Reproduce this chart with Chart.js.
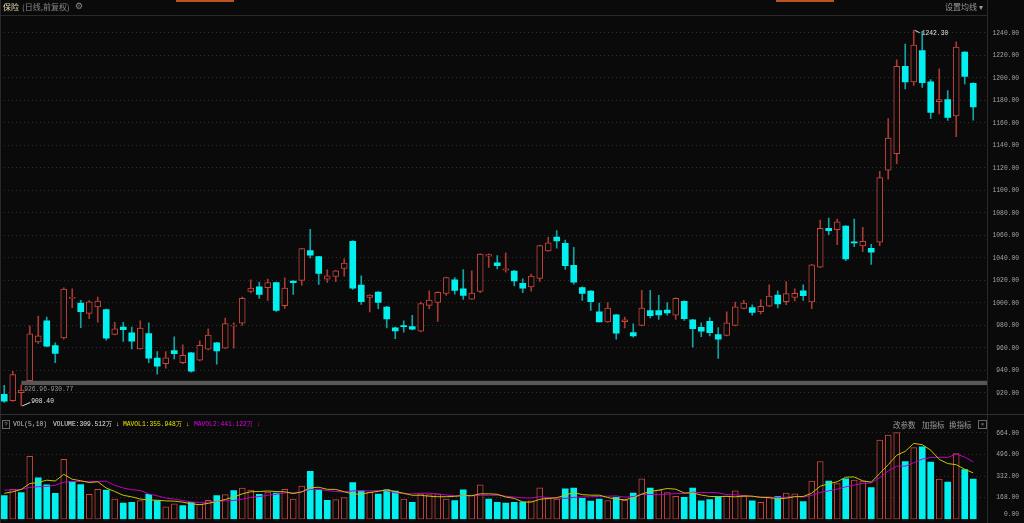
<!DOCTYPE html>
<html>
<head>
<meta charset="utf-8">
<script src="https://cdn.jsdelivr.net/npm/chart.js@4.4.1/dist/chart.umd.min.js"></script>
<style>
html, body { margin: 0; padding: 0; background: #0a0a0a; overflow: hidden; }
#wrap { position: relative; width: 1024px; height: 523px; background: #0a0a0a; font-family: 'Liberation Mono', monospace; }
canvas { position: absolute; left: 0; }
#main { top: 0; }
#vol { top: 412px; }
.t { position: absolute; white-space: nowrap; line-height: 1; }
.cjk { font-family: 'Noto Sans CJK SC', sans-serif; }
.mono { font-family: 'Liberation Mono', monospace; font-size: 6.3px; }
.ln { position: absolute; background: #2a2a2a; }
.box { position: absolute; border: 1px solid #6a6a6a; color: #9a9a9a; font-size: 6px; text-align: center; line-height: 7px; }
</style>
</head>
<body>
<div id="wrap">
	<canvas id="main" width="1024" height="412"></canvas>
	<canvas id="vol" width="1024" height="111"></canvas>

	<!-- 프레임 선 -->
	<div class="ln" style="left:0;top:15px;width:987px;height:1px"></div>
	<div class="ln" style="left:987px;top:0;width:1px;height:523px"></div>
	<div class="ln" style="left:0;top:0;width:1px;height:523px"></div>
	<div class="ln" style="left:0;top:414px;width:1024px;height:1px;background:#303030"></div>
	<div class="ln" style="left:176px;top:0;width:58px;height:2px;background:#b8541c"></div>
	<div class="ln" style="left:776px;top:0;width:58px;height:2px;background:#b8541c"></div>

	<!-- 상단 제목 -->
	<span class="t cjk" style="left:3px;top:3px;font-size:8px;color:#e4dfae">保险</span>
	<span class="t cjk" style="left:22px;top:3px;font-size:8px;color:#8a8a8a">(日线,前复权)</span>
	<span class="t" style="left:75px;top:2px;font-size:9px;color:#8a8a8a;font-family:'DejaVu Sans'">&#9881;</span>
	<span class="t cjk" style="left:945px;top:3px;font-size:8px;color:#9a9a9a">设置均线 &#9662;</span>

	<!-- 거래량 헤더 -->
	<div class="box" style="left:2px;top:420px;width:6px;height:7px">?</div>
	<span class="t mono" style="left:13px;top:422px;color:#c4c4c4">VOL(5,10)</span>
	<span class="t mono" style="left:53px;top:422px;color:#e2e2e2">VOLUME:309.512万 ↓</span>
	<span class="t mono" style="left:123px;top:422px;color:#e6e600">MAVOL1:355.948万 ↓</span>
	<span class="t mono" style="left:194px;top:422px;color:#e000e0">MAVOL2:441.122万 ↓</span>
	<span class="t cjk" style="left:893px;top:421px;font-size:7.5px;color:#9a9a9a">改参数</span>
	<span class="t cjk" style="left:922px;top:421px;font-size:7.5px;color:#9a9a9a">加指标</span>
	<span class="t cjk" style="left:949px;top:421px;font-size:7.5px;color:#9a9a9a">换指标</span>
	<div class="box" style="left:978px;top:420px;width:7px;height:7px">×</div>
</div>

<script>
// 일봉 시가/고가/저가/종가
var open = [
	918.8, 913, 920.3, 930.8, 965.4, 984, 962.1, 968.9, 1004.0, 999.9,
	990.7, 996.4, 994, 972.1, 978.6, 973.3, 959.2, 972.7, 950.9, 945.9,
	957.7, 946.8, 955.6, 949.1, 958.8, 964.5, 959.8, 979.4, 981.9, 1010.2,
	1014.3, 1013.5, 1018.1, 997.5, 1019.4, 1020, 1046.5, 1041.2, 1021.1, 1023.5,
	1030.6, 1054.8, 1015.8, 1004.9, 1009.6, 996.4, 977.8, 979.2, 978.9, 974.8,
	997.8, 1000.4, 1008.4, 1020.5, 1012.6, 1003.4, 1010.2, 1041.5, 1035.6, 1029.1,
	1028.2, 1017.5, 1014.1, 1021.7, 1046.2, 1058.6, 1053, 1033.5, 1013.7, 1010.5,
	992, 983.1, 989.3, 983.4, 973.6, 980.1, 993.1, 993.1, 993.7, 989,
	1001.4, 984.9, 978.3, 983.6, 971.8, 971.2, 980.1, 995.1, 995.8, 992.2,
	997.2, 1007, 1001, 1004.9, 1010.8, 1000.8, 1031.8, 1066.3, 1065.1, 1068.3,
	1053.5, 1050.6, 1048.6, 1053.9, 1117.9, 1132.7, 1210.2, 1196.4, 1224.3, 1196.4,
	1178.9, 1180.7, 1166.3, 1222.9, 1195.2
];
var high = [
	926.7, 939.1, 926.96, 979.6, 988.4, 987.5, 964.5, 1013.5, 1012.6, 1002.2,
	1002, 1005.2, 994.5, 982.7, 982.7, 978.6, 984, 982.2, 956.8, 956.8,
	969.8, 962.7, 956, 966.3, 976.9, 965, 986.6, 982.2, 1005.2, 1020.5,
	1018.5, 1021.1, 1018.6, 1022.3, 1019.8, 1048.6, 1065.4, 1041.5, 1029.4, 1029,
	1039.1, 1055.5, 1024.1, 1007.5, 1010, 997, 978.5, 984, 989, 1000.8,
	1010.8, 1009.8, 1023, 1022.6, 1029.7, 1028.5, 1043.8, 1043.6, 1042, 1044.4,
	1029, 1021.4, 1025.6, 1051.5, 1058.3, 1064.2, 1055.9, 1049.5, 1014.2, 1011,
	999.9, 1000.2, 989.8, 987.5, 981.3, 1011.1, 1011.1, 1006.7, 1000.2, 1004.5,
	1001.8, 985.3, 982.2, 986.9, 978, 992, 1000.8, 1002.2, 998.4, 1002.8,
	1016.1, 1010.8, 1019, 1012.6, 1016.1, 1034.3, 1073.6, 1075.4, 1074.5, 1068.8,
	1074.5, 1067.2, 1052.1, 1117, 1163.9, 1216.1, 1230, 1242.3, 1241.2, 1198.4,
	1208.1, 1188.7, 1232, 1223.3, 1195.6
];
var low = [
	911.5, 912.5, 908.4, 930.77, 963.9, 960.9, 946.8, 967.7, 995.8, 978.1,
	986, 982.8, 966.8, 971.5, 965.7, 959.2, 958.8, 946.8, 936.7, 942,
	950.3, 946, 938.5, 948.5, 958.3, 945.6, 959.3, 959.8, 980.1, 1008.8,
	1004, 1002.2, 992.5, 995.1, 1007.5, 1015.8, 1040, 1016.4, 1018.1, 1018.8,
	1023.8, 1012, 998.7, 992, 994.9, 977.8, 968.3, 973.9, 976, 974.3,
	994.9, 983.6, 1006.7, 1007.8, 1003.1, 1003, 1009, 1031.5, 1030.3, 1027.4,
	1015, 1009, 1010.5, 1019, 1045.8, 1048.6, 1029.7, 1016.7, 1002.2, 993.4,
	983, 982.6, 967.7, 977.8, 969.5, 979.6, 986.6, 985.4, 989, 985.4,
	984.5, 960.6, 970.1, 970.7, 950.6, 970.7, 979.6, 994.6, 989, 990.2,
	996.7, 995.5, 998.4, 1001.7, 1002.2, 994.9, 1031.3, 1060.6, 1051.8, 1037.6,
	1050, 1045.6, 1034.1, 1050.9, 1110, 1123.8, 1190.2, 1193.4, 1191.6, 1163.9,
	1168, 1162.1, 1147.7, 1194.6, 1162.4
];
var close = [
	912.6, 936.2, 922.6, 972.5, 970.7, 961.5, 955, 1012.3, 1004.3, 992.2,
	1001, 1001.7, 968.6, 976.9, 976.3, 966, 977.7, 950.9, 943.8, 951.2,
	954.8, 953.5, 939.4, 962.4, 971.5, 957.4, 981.6, 979.8, 1004, 1013.2,
	1007.5, 1018.1, 993.4, 1013.2, 1017.9, 1048.2, 1042.4, 1026.1, 1024.1, 1028.5,
	1035.3, 1013.2, 1001, 1007, 1000.4, 985.8, 975.1, 978.9, 976.6, 999.3,
	1002.6, 1009.3, 1022.6, 1011.1, 1006.7, 1008.8, 1043.3, 1043.0, 1033.2, 1030.3,
	1019.6, 1013.2, 1023.8, 1050.9, 1053.3, 1055, 1033.2, 1018.5, 1008.4, 1001,
	983.1, 995.5, 973, 984.9, 970.7, 995.5, 988.7, 989.3, 991.1, 1004,
	986, 977, 974.8, 973.6, 967.7, 982.2, 996.6, 999.9, 991.6, 996.9,
	1006.1, 999, 1008.2, 1008.6, 1006.4, 1033.8, 1066.3, 1064.2, 1072.1, 1039.1,
	1053.3, 1054.8, 1045, 1111.4, 1146.5, 1210.2, 1196.4, 1229.1, 1195.8, 1169.2,
	1180.7, 1164.8, 1227.3, 1201.4, 1174.2
];
// 거래량(만) 과 이동평균
var volume = [
	181, 229, 204, 484, 319, 264, 199, 461, 291, 266,
	191, 229, 224, 154, 124, 129, 144, 191, 144, 96,
	119, 104, 129, 114, 146, 181, 189, 221, 239, 224,
	191, 209, 201, 229, 155, 254, 369, 224, 146, 151,
	166, 281, 219, 209, 194, 226, 216, 154, 129, 196,
	189, 196, 154, 144, 226, 186, 264, 154, 129, 124,
	129, 131, 141, 241, 159, 154, 234, 239, 161, 139,
	154, 144, 169, 146, 201, 311, 239, 224, 204, 176,
	169, 239, 141, 151, 171, 176, 219, 176, 141, 129,
	166, 174, 201, 196, 136, 294, 444, 294, 274, 311,
	301, 294, 244, 609, 646, 666, 444, 551, 556, 439,
	309, 286, 504, 381, 309.5
];
var mavol1 = [
	199, 211, 229, 274, 283, 300, 294, 345, 307, 296,
	282, 288, 240, 213, 184, 172, 155, 148, 146, 141,
	139, 131, 118, 112, 122, 135, 152, 170, 195, 211,
	213, 217, 213, 211, 197, 210, 242, 246, 230, 229,
	211, 194, 193, 205, 214, 226, 213, 200, 184, 184,
	177, 173, 173, 176, 182, 181, 195, 195, 192, 171,
	160, 133, 131, 153, 160, 165, 186, 205, 189, 185,
	185, 167, 153, 150, 163, 194, 213, 224, 236, 231,
	202, 202, 186, 175, 174, 176, 172, 179, 177, 168,
	166, 157, 162, 173, 175, 200, 254, 273, 288, 323,
	325, 295, 285, 352, 419, 492, 522, 583, 573, 531,
	460, 428, 419, 384, 355.9
];
var mavol2 = [
	224, 225, 229, 245, 250, 252, 262, 285, 290, 290,
	291, 291, 293, 260, 240, 227, 221, 194, 180, 163,
	155, 143, 133, 129, 132, 137, 141, 144, 154, 167,
	174, 184, 192, 203, 204, 211, 229, 230, 220, 213,
	210, 218, 219, 217, 221, 219, 203, 196, 195, 199,
	201, 193, 186, 180, 183, 179, 184, 184, 184, 177,
	171, 164, 163, 173, 166, 163, 160, 168, 171, 173,
	175, 177, 179, 170, 174, 190, 190, 189, 193, 197,
	198, 208, 205, 206, 203, 189, 187, 182, 176, 171,
	171, 164, 170, 175, 171, 183, 206, 218, 231, 249,
	263, 275, 279, 320, 371, 408, 408, 434, 462, 475,
	476, 475, 501, 478, 441.1
];
var priceTicks = [920, 940, 960, 980, 1000, 1020, 1040, 1060, 1080, 1100, 1120, 1140, 1160, 1180, 1200, 1220, 1240];
var volTicks = [0, 168, 332, 496, 664];
var gapLow = 926.96, gapHigh = 930.77; // 미회보 갭

var RED = '#c8453e', RED_WICK = '#a63a33', CYAN = '#00f0f0', CYAN_WICK = '#12a2a2', BG = '#0a0a0a';
var GRID = '#2e2e2e', AXIS_TXT = '#a4a4a4';
var monoFont = { family: "'Liberation Mono', monospace", size: 6.3 };

var idx = close.map(function (v, i) { return i; });
function candleUp(i) { return close[i] >= open[i]; }
function volUp(i) { return i > 0 && close[i] > close[i - 1]; }
var xMin = -0.5, xMax = 115.62;

// 최고가/최저가 표시, 갭 표시
var markers = {
	id: 'markers',
	beforeDatasetsDraw: function (chart) {
		var ctx = chart.ctx, x = chart.scales.x, y = chart.scales.y, area = chart.chartArea;
		var gx = x.getPixelForValue(2);
		var y1 = y.getPixelForValue(gapHigh), y2 = y.getPixelForValue(gapLow);
		ctx.save();
		ctx.fillStyle = '#575757';
		ctx.fillRect(gx, y1, area.right - gx, y2 - y1);
		ctx.fillStyle = '#9a9a9a';
		ctx.font = "6.3px 'Liberation Mono', monospace";
		ctx.textBaseline = 'middle';
		ctx.fillText(gapLow.toFixed(2) + '-' + gapHigh.toFixed(2), gx + 3, y2 + 4);
		ctx.restore();
	},
	afterDatasetsDraw: function (chart) {
		var ctx = chart.ctx, x = chart.scales.x, y = chart.scales.y;
		var hi = high.indexOf(Math.max.apply(null, high));
		var lo = low.indexOf(Math.min.apply(null, low));
		ctx.save();
		ctx.strokeStyle = '#e0e0e0';
		ctx.fillStyle = '#e0e0e0';
		ctx.lineWidth = 1;
		ctx.font = "6.3px 'Liberation Mono', monospace";
		ctx.textBaseline = 'middle';
		var hx = x.getPixelForValue(hi), hy = y.getPixelForValue(high[hi]);
		ctx.beginPath(); ctx.moveTo(hx + 1, hy); ctx.lineTo(hx + 6, hy + 2.5); ctx.stroke();
		ctx.fillText(high[hi].toFixed(2), hx + 8, hy + 3.5);
		var lx = x.getPixelForValue(lo), ly = y.getPixelForValue(low[lo]);
		ctx.beginPath(); ctx.moveTo(lx + 1, ly); ctx.lineTo(lx + 9, ly - 3.5); ctx.stroke();
		ctx.fillText(low[lo].toFixed(2), lx + 10, ly - 4.5);
		ctx.restore();
	}
};

new Chart(document.getElementById('main'), {
	type: 'bar',
	data: {
		datasets: [
			{ //몸통
				data: idx.map(function (i) { return { x: i, y: [open[i], close[i]] }; }),
				order: 0, grouped: false, barThickness: 6, minBarLength: 1, borderSkipped: false,
				borderWidth: function (c) { return candleUp(c.dataIndex) ? 1 : 0; },
				borderColor: RED,
				backgroundColor: function (c) { return candleUp(c.dataIndex) ? BG : CYAN; }
			},
			{ //꼬리
				data: idx.map(function (i) { return { x: i, y: [low[i], high[i]] }; }),
				order: 1, grouped: false, barThickness: 1, borderWidth: 0,
				backgroundColor: function (c) { return candleUp(c.dataIndex) ? RED_WICK : CYAN_WICK; }
			}
		]
	},
	options: {
		responsive: false, animation: false, events: [],
		layout: { padding: { top: 16, bottom: 2, left: 0, right: 5 } },
		plugins: { legend: { display: false }, tooltip: { enabled: false } },
		scales: {
			x: { type: 'linear', min: xMin, max: xMax, offset: false, display: false, grid: { offset: false } },
			y: {
				position: 'right', min: 906.4, max: 1255,
				afterBuildTicks: function (s) { s.ticks = priceTicks.map(function (v) { return { value: v }; }); },
				afterFit: function (s) { s.width = 32; },
				ticks: { color: AXIS_TXT, font: monoFont, padding: 0, crossAlign: 'far', autoSkip: false,
					callback: function (v) { return Number(v).toFixed(2); } },
				grid: { color: GRID, drawTicks: false },
				border: { display: false, dash: [1, 3] }
			}
		}
	},
	plugins: [markers]
});

var volZeroAt = 34; // 0.00 라벨 위치
new Chart(document.getElementById('vol'), {
	type: 'bar',
	data: {
		datasets: [
			{ type: 'line', data: idx.map(function (i) { return { x: i, y: mavol1[i] }; }),
				borderColor: '#c4c400', borderWidth: 1, pointRadius: 0, tension: 0, order: 0 },
			{ type: 'line', data: idx.map(function (i) { return { x: i, y: mavol2[i] }; }),
				borderColor: '#c000c0', borderWidth: 1, pointRadius: 0, tension: 0, order: 1 },
			{
				data: idx.map(function (i) { return { x: i, y: volume[i] }; }),
				order: 2, grouped: false, barThickness: 6, borderSkipped: false,
				borderWidth: function (c) { return volUp(c.dataIndex) ? 1 : 0; },
				borderColor: RED,
				backgroundColor: function (c) { return volUp(c.dataIndex) ? BG : CYAN; }
			}
		]
	},
	options: {
		responsive: false, animation: false, events: [],
		layout: { padding: { top: 18, bottom: 1.5, left: 0, right: 5 } },
		plugins: { legend: { display: false }, tooltip: { enabled: false } },
		scales: {
			x: { type: 'linear', min: xMin, max: xMax, offset: false, display: false, grid: { offset: false } },
			y: {
				position: 'right', min: 0, max: 686,
				afterBuildTicks: function (s) { s.ticks = volTicks.map(function (v) { return { value: v === 0 ? volZeroAt : v }; }); },
				afterFit: function (s) { s.width = 32; },
				ticks: { color: AXIS_TXT, font: monoFont, padding: 0, crossAlign: 'far', autoSkip: false,
					callback: function (v) { return (v === volZeroAt ? 0 : Number(v)).toFixed(2); } },
				grid: { color: function (c) { return c.tick && c.tick.value === volZeroAt ? 'rgba(0,0,0,0)' : GRID; }, drawTicks: false },
				border: { display: false, dash: [1, 3] }
			}
		}
	}
});
</script>
</body>
</html>
